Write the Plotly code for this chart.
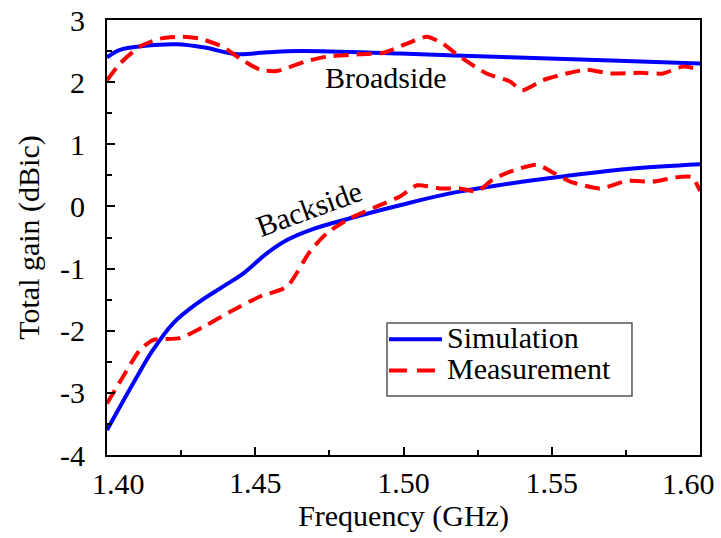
import plotly.graph_objects as go

# Broadside gain (dBic) vs frequency (GHz)
broad_sim_f = [1.400, 1.4044, 1.412, 1.4236, 1.4326, 1.4438, 1.4540, 1.465, 1.4988, 1.536, 1.570, 1.600]
broad_sim_g = [2.40, 2.52, 2.58, 2.61, 2.56, 2.45, 2.48, 2.50, 2.46, 2.40, 2.35, 2.30]

broad_meas_f = [1.400, 1.4044, 1.411, 1.418, 1.4256, 1.4314, 1.439, 1.4449, 1.4516, 1.4573,
                1.4675, 1.4742, 1.4853, 1.493, 1.5012, 1.5079, 1.5133, 1.519, 1.528, 1.5359,
                1.540, 1.547, 1.555, 1.5619, 1.5697, 1.5798, 1.5875, 1.5943, 1.600]
broad_meas_g = [2.03, 2.30, 2.57, 2.70, 2.73, 2.70, 2.57, 2.38, 2.20, 2.18,
                2.34, 2.41, 2.45, 2.47, 2.62, 2.73, 2.62, 2.41, 2.14, 2.01,
                1.87, 2.03, 2.14, 2.20, 2.14, 2.15, 2.14, 2.25, 2.20]

# Backside gain (dBic) vs frequency (GHz)
back_sim_f = [1.400, 1.4044, 1.4101, 1.4155, 1.4223, 1.4304, 1.4391, 1.4459, 1.454, 1.4607,
              1.4685, 1.482, 1.4988, 1.5157, 1.536, 1.555, 1.5774, 1.600]
back_sim_g = [-3.60, -3.22, -2.74, -2.31, -1.88, -1.56, -1.29, -1.08, -0.75, -0.54,
              -0.38, -0.19, 0.02, 0.21, 0.37, 0.49, 0.61, 0.68]

back_meas_f = [1.400, 1.4054, 1.4111, 1.4155, 1.4246, 1.4324, 1.4425, 1.4516, 1.4607, 1.4685,
               1.4742, 1.482, 1.4921, 1.4988, 1.5046, 1.5123, 1.519, 1.5248, 1.530, 1.536,
               1.545, 1.551, 1.5562, 1.5663, 1.5754, 1.5842, 1.5922, 1.5973, 1.600]
back_meas_g = [-3.17, -2.74, -2.31, -2.15, -2.12, -1.94, -1.67, -1.45, -1.29, -0.72,
               -0.43, -0.19, 0.02, 0.16, 0.34, 0.29, 0.29, 0.24, 0.43, 0.56,
               0.67, 0.53, 0.40, 0.29, 0.41, 0.40, 0.47, 0.47, 0.25]

x_ticks = [1.40, 1.45, 1.50, 1.55, 1.60]
x_tick_text = ["1.40", "1.45", "1.50", "1.55", "1.60"]
y_ticks = [-4, -3, -2, -1, 0, 1, 2, 3]
y_tick_text = ["-4", "-3", "-2", "-1", "0", "1", "2", "3"]

FONT = "Liberation Serif"
FS = 30
BLUE = "#0000ff"
RED = "#ff0000"
DASH = "15px,8px"
LW = 4

fig = go.Figure()

fig.add_trace(go.Scatter(x=broad_sim_f, y=broad_sim_g, mode="lines", name="Simulation",
                         showlegend=False,
                         line=dict(color=BLUE, width=LW, shape="spline", smoothing=1.0)))
fig.add_trace(go.Scatter(x=broad_meas_f, y=broad_meas_g, mode="lines", name="Measurement",
                         showlegend=False,
                         line=dict(color=RED, width=LW, dash=DASH, shape="spline", smoothing=0.6)))
fig.add_trace(go.Scatter(x=back_sim_f, y=back_sim_g, mode="lines", name="Simulation",
                         showlegend=False,
                         line=dict(color=BLUE, width=LW, shape="spline", smoothing=1.0)))
fig.add_trace(go.Scatter(x=back_meas_f, y=back_meas_g, mode="lines", name="Measurement",
                         showlegend=False,
                         line=dict(color=RED, width=LW, dash=DASH, shape="spline", smoothing=0.6)))

# curve labels
fig.add_annotation(x=1.4941, y=2.07, text="Broadside", showarrow=False,
                   font=dict(family=FONT, size=FS, color="black"))
fig.add_annotation(x=1.4681, y=-0.03, text="Backside", showarrow=False, textangle=-20,
                   font=dict(family=FONT, size=FS, color="black"))

# the two end tick labels sit just inside the frame corners
for txt, xp in [(x_tick_text[0], 0.0202), (x_tick_text[-1], 0.9798)]:
    fig.add_annotation(xref="paper", yref="paper", x=xp, y=0, yshift=-10, text=txt,
                       showarrow=False, xanchor="center", yanchor="top",
                       font=dict(family=FONT, size=FS, color="black"))
axis_tick_text = [""] + x_tick_text[1:-1] + [""]

# legend box drawn in paper coordinates
leg_x0, leg_x1, leg_y0, leg_y1 = 0.4722, 0.8853, 0.1356, 0.3034
fig.add_shape(type="rect", xref="paper", yref="paper", x0=leg_x0, x1=leg_x1, y0=leg_y0, y1=leg_y1,
              line=dict(color="#555555", width=1.5), fillcolor="white", layer="above")
legend_rows = [("Simulation", BLUE, "solid", 0.2660), ("Measurement", RED, "18px,10px", 0.1940)]
for label, color, dash, yy in legend_rows:
    fig.add_shape(type="line", xref="paper", yref="paper", x0=0.4755, x1=0.5649, y0=yy, y1=yy,
                  line=dict(color=color, width=LW, dash=dash), layer="above")
    fig.add_annotation(xref="paper", yref="paper", x=0.5700, y=yy + 0.004, text=label,
                       showarrow=False, xanchor="left", yanchor="middle",
                       font=dict(family=FONT, size=FS, color="black"))

fig.update_layout(
    width=721, height=538,
    margin=dict(l=107, r=21, t=20, b=83),
    paper_bgcolor="white", plot_bgcolor="white",
    font=dict(family=FONT, size=FS, color="black"),
    showlegend=False,
)

fig.update_xaxes(
    range=[1.40, 1.60], showgrid=False, zeroline=False, automargin=False,
    showline=True, linecolor="black", linewidth=2, mirror=True,
    ticks="inside", ticklen=8, tickwidth=1.5, tickcolor="black",
    tickvals=x_ticks, ticktext=axis_tick_text, ticklabelstandoff=0,
    minor=dict(ticks="inside", dtick=0.025, tick0=1.40, ticklen=5, tickwidth=1.5, tickcolor="black"),
    title=dict(text="Frequency (GHz)", font=dict(family=FONT, size=FS), standoff=2),
)
fig.update_yaxes(
    range=[-4, 3], showgrid=False, zeroline=False, automargin=False,
    showline=True, linecolor="black", linewidth=2, mirror=True,
    ticks="inside", ticklen=8, tickwidth=1.5, tickcolor="black",
    tickvals=y_ticks, ticktext=y_tick_text, ticklabelstandoff=14,
    minor=dict(ticks="inside", dtick=0.5, tick0=-4, ticklen=5, tickwidth=1.5, tickcolor="black"),
    title=dict(text="Total gain (dBic)", font=dict(family=FONT, size=FS), standoff=12),
)

fig.write_html("out.html")
